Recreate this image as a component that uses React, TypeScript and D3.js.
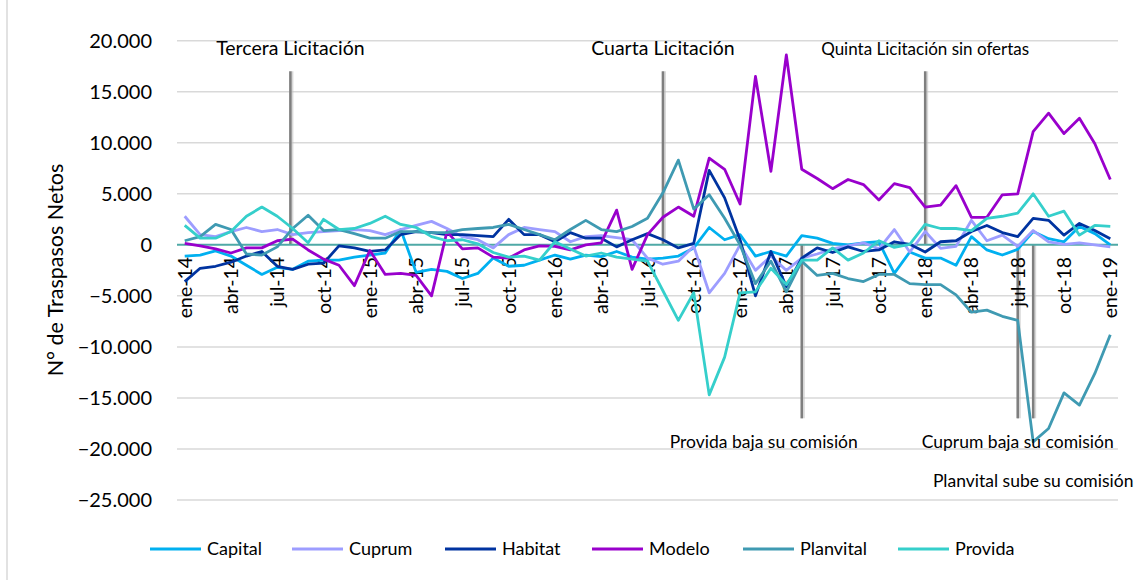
import React, { useEffect, useRef } from 'react';
import * as d3 from 'd3';

// month labels shown on the axis (every 3 months)
const tickLabels = [
  'ene-14', 'abr-14', 'jul-14', 'oct-14', 'ene-15', 'abr-15', 'jul-15', 'oct-15',
  'ene-16', 'abr-16', 'jul-16', 'oct-16', 'ene-17', 'abr-17', 'jul-17', 'oct-17',
  'ene-18', 'abr-18', 'jul-18', 'oct-18', 'ene-19',
];

// monthly net transfers, ene-14 .. ene-19 (61 months)
const capital = [
  -1100, -1000, -600, -1100, -2000, -2900, -2200, -2400, -1600, -1500, -1500, -1200,
  -1000, -800, 1500, -2700, -2400, -2600, -3300, -2800, -1300, -2100, -2000, -1500,
  -1000, -1400, -1000, -1150, -650, -1200, -1400, -1300, -1100, -300, 1700, 500,
  1000, -1100, -650, -1100, 900, 650, 150, 0, 200, 300, -2800, -700,
  -1300, -1300, -2000, 800, -500, -1000, -450, 1300, 600, 300, 1800, 1100,
  0,
];
const cuprum = [
  2800, 1000, 800, 1300, 1700, 1300, 1500, 1000, 1200, 1300, 1400, 1500,
  1400, 1000, 1500, 1900, 2300, 1600, 800, 500, -300, 1000, 1700, 1500,
  1300, 300, 800, 900, 700, 500, -1300, -1900, -1600, -150, -4700, -2800,
  0, -2500, -1100, -2500, -1300, -900, -400, -100, 200, -400, 1500, -700,
  1300, -350, -150, 2400, 400, 950, -150, 1400, 300, 50, 200, 0,
  -200,
];
const habitat = [
  -3600, -2300, -2100, -1700, -1100, -650, -2100, -2400, -1900, -1800, -100, -300,
  -650, -500, 1000, 1300, 1200, 1000, 1000, 900, 800, 2500, 1000, 1000,
  300, 1200, 650, 650, -200, 500, 1100, 500, -300, 150, 7300, 4600,
  500, -5000, -650, -4100, -1300, -300, -750, -200, -650, -500, 300, 50,
  -700, 300, 400, 1300, 1900, 1200, 800, 2600, 2400, 950, 2100, 1400,
  600,
];
const modelo = [
  150, -100, -400, -800, -300, -300, 400, 550, -500, -1400, -2000, -4000,
  -550, -2900, -2800, -3000, -5000, 1300, -400, -300, -1200, -1300, -500, -100,
  -150, -500, 0, 200, 3400, -2400, 1000, 2700, 3700, 2800, 8500, 7400,
  4000, 16500, 7200, 18600, 7400, 6500, 5500, 6400, 5900, 4400, 6000, 5600,
  3700, 3900, 5800, 2700, 2700, 4900, 5000, 11100, 12900, 10900, 12400, 9900,
  6400,
];
const planvital = [
  400, 800, 2000, 1500, -900, -1000, -200, 1600, 2900, 1400, 1500, 1100,
  650, 650, 1300, 1300, 1200, 1200, 1500, 1600, 1700, 2000, 1500, 1000,
  500, 1500, 2400, 1500, 1300, 1800, 2600, 5100, 8300, 3500, 4900, 2600,
  0, -3800, -1600, -4600, -1600, -3000, -2800, -3300, -3600, -2900, -2900, -3800,
  -3900, -3900, -4900, -6600, -6400, -7000, -7400, -19300, -18000, -14500, -15700, -12600,
  -8800,
];
const provida = [
  1900, 650, 650, 1300, 2800, 3700, 2800, 1600, 200, 2500, 1500, 1600,
  2100, 2800, 2000, 1700, 800, 400, 500, 100, -750, -1200, -1100, -1500,
  300, -400, -1100, -800, -1200, -1400, -1600, -4500, -7400, -4700, -14700, -11000,
  -4700, -4600, -2300, -3900, -1500, -1500, -300, -1500, -800, 400, -250, 50,
  2000, 1600, 1600, 1400, 2600, 2800, 3100, 5000, 2800, 3300, 950, 1900,
  1800,
];

const seriesNames = ['Capital', 'Cuprum', 'Habitat', 'Modelo', 'Planvital', 'Provida'];
const seriesValues = [capital, cuprum, habitat, modelo, planvital, provida];
const seriesColors = ['#00b0f0', '#9d9dff', '#0033a0', '#9900cc', '#3f9ab2', '#35cfcb'];

// y axis ticks
const yTicks = [20000, 15000, 10000, 5000, 0, -5000, -10000, -15000, -20000, -25000];

// events marked with vertical lines (month index, label, side of zero)
const eventLabels = [
  'Tercera Licitación', 'Cuarta Licitación', 'Quinta Licitación sin ofertas',
  'Provida baja su comisión', 'Cuprum baja su comisión', 'Planvital sube su comisión',
];
const eventMonths = [6.85, 31, 48, 40, 54, 55];
const eventSides = ['up', 'up', 'up', 'down', 'down', 'down'];

const FONT = 'Lato, "Open Sans", sans-serif';

const App = () => {
  const ref = useRef<SVGSVGElement | null>(null);

  useEffect(() => {
    const svg = d3.select(ref.current);
    svg.selectAll('*').remove();

    const width = 1135;
    const height = 580;
    const plot = { left: 177, right: 1118, top: 40.7, bottom: 500 };
    const n = capital.length;

    const xScale = d3.scaleLinear().domain([-0.5, n - 0.5]).range([plot.left, plot.right]);
    const yScale = d3.scaleLinear().domain([-25000, 20000]).range([plot.bottom, plot.top]);

    svg.append('rect').attr('width', width).attr('height', height).attr('fill', '#fff');
    svg.append('line')
      .attr('x1', 7).attr('x2', 7).attr('y1', 0).attr('y2', height)
      .attr('stroke', '#d9d9d9').attr('stroke-width', 1.5);

    // grid
    svg.append('g')
      .selectAll('line')
      .data(yTicks.filter(d => d !== 0))
      .enter()
      .append('line')
      .attr('x1', plot.left).attr('x2', plot.right)
      .attr('y1', d => yScale(d)).attr('y2', d => yScale(d))
      .attr('stroke', '#d9d9d9').attr('stroke-width', 1.5);

    // y tick labels
    svg.append('g')
      .selectAll('text')
      .data(yTicks)
      .enter()
      .append('text')
      .attr('x', 152)
      .attr('y', d => yScale(d))
      .attr('dy', '0.36em')
      .attr('text-anchor', 'end')
      .style('font-family', FONT)
      .style('font-size', '20px')
      .style('fill', '#000')
      .text(d => d3.format(',')(d).replace(/,/g, '.'));

    // y title
    svg.append('text')
      .attr('transform', `translate(55, 270) rotate(-90)`)
      .attr('dy', '0.35em')
      .attr('text-anchor', 'middle')
      .style('font-family', FONT)
      .style('font-size', '21.5px')
      .text('N° de Traspasos Netos');

    // event lines
    const evGroup = svg.append('g');
    eventLabels.forEach((label, i) => {
      const x = xScale(eventMonths[i]);
      const yEnd = eventSides[i] === 'up' ? yScale(17000) : yScale(-17000);
      evGroup.append('line')
        .attr('x1', x + 1).attr('x2', x + 1).attr('y1', yScale(0)).attr('y2', yEnd)
        .attr('stroke', '#bfbfbf').attr('stroke-width', 4).attr('opacity', 0.6);
      evGroup.append('line')
        .attr('x1', x).attr('x2', x).attr('y1', yScale(0)).attr('y2', yEnd)
        .attr('stroke', '#7f7f7f').attr('stroke-width', 2.5);
    });

    // zero line
    svg.append('line')
      .attr('x1', plot.left).attr('x2', plot.right)
      .attr('y1', yScale(0)).attr('y2', yScale(0))
      .attr('stroke', '#4fa9a6').attr('stroke-width', 2);

    // x tick labels (rotated)
    svg.append('g')
      .selectAll('text')
      .data(tickLabels)
      .enter()
      .append('text')
      .attr('transform', (d, i) => `translate(${xScale(i * 3)}, ${yScale(0) + 12}) rotate(-90)`)
      .attr('dy', '0.36em')
      .attr('text-anchor', 'end')
      .style('font-family', FONT)
      .style('font-size', '19.5px')
      .text(d => d);

    // lines
    const line = d3.line<number>()
      .x((d, i) => xScale(i))
      .y(d => yScale(d));

    svg.append('g')
      .selectAll('path')
      .data(seriesValues)
      .enter()
      .append('path')
      .attr('d', d => line(d))
      .attr('fill', 'none')
      .attr('stroke', (d, i) => seriesColors[i])
      .attr('stroke-width', 2.8)
      .attr('stroke-linejoin', 'round');

    // event labels
    const labelY = [55, 55, 55, 448, 448, 487];
    const labelSize = [19.5, 19.5, 17, 17.5, 17.5, 17.5];
    const labelDx = [0, 0, 0, -38, 0, 0];
    eventLabels.forEach((label, i) => {
      svg.append('text')
        .attr('x', xScale(eventMonths[i]) + labelDx[i])
        .attr('y', labelY[i])
        .attr('text-anchor', 'middle')
        .style('font-family', FONT)
        .style('font-size', `${labelSize[i]}px`)
        .text(label);
    });

    // legend
    const legendX = [150, 292, 445, 592, 743, 898];
    const legendY = 549;
    const legend = svg.append('g');
    seriesNames.forEach((name, i) => {
      legend.append('line')
        .attr('x1', legendX[i]).attr('x2', legendX[i] + 51)
        .attr('y1', legendY).attr('y2', legendY)
        .attr('stroke', seriesColors[i]).attr('stroke-width', 3);
      legend.append('text')
        .attr('x', legendX[i] + 57)
        .attr('y', legendY)
        .attr('dy', '0.36em')
        .style('font-family', FONT)
        .style('font-size', '18px')
        .text(name);
    });
  }, []);

  return (
    <svg
      ref={ref}
      width={1135}
      height={580}
      style={{ position: 'absolute', left: 0, top: 0, display: 'block' }}
    />
  );
};

export default App;
